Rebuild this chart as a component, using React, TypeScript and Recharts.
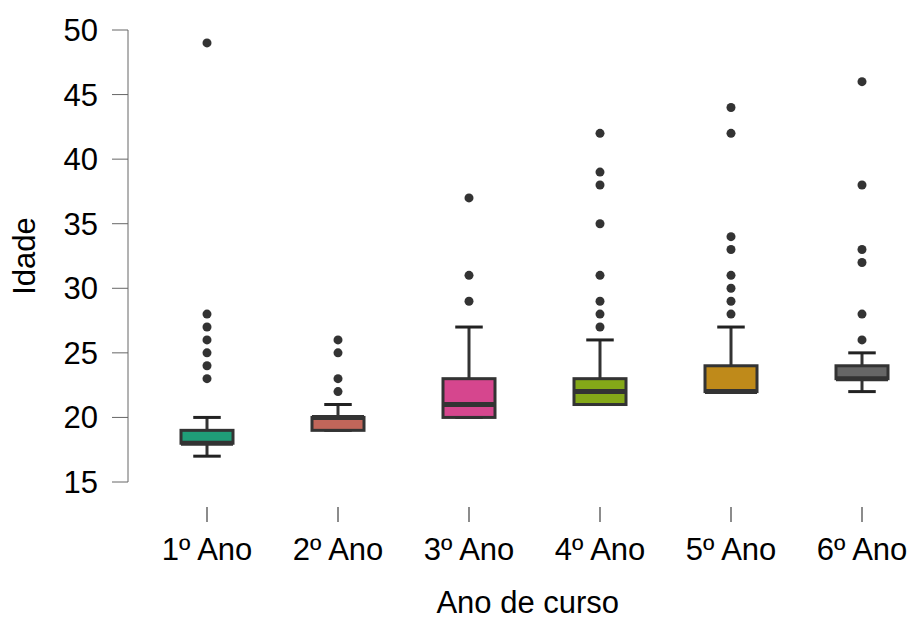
import { ComposedChart, Bar, Scatter, XAxis, YAxis } from 'recharts';

const categories = ['1º Ano', '2º Ano', '3º Ano', '4º Ano', '5º Ano', '6º Ano'];
const whiskerLow = [17, 19, 20, 21, 22, 22];
const q1 = [18, 19, 20, 21, 22, 23];
const median = [18, 20, 21, 22, 22, 23];
const q3 = [19, 20, 23, 23, 24, 24];
const whiskerHigh = [20, 21, 27, 26, 27, 25];
const outliers = [
    [23, 24, 25, 26, 27, 28, 49],
    [22, 23, 25, 26],
    [29, 31, 37],
    [27, 28, 29, 31, 35, 38, 39, 42],
    [28, 29, 30, 31, 33, 34, 42, 44],
    [26, 28, 32, 33, 38, 46],
];
const yTicks = [15, 20, 25, 30, 35, 40, 45, 50];
const colors = ['#1f9e78', '#c0665a', '#d6468e', '#84a818', '#bf8a1a', '#666666'];

const boxRows = categories.map((cat, i) => ({
    cat,
    lo: whiskerLow[i],
    q1: q1[i],
    med: median[i],
    q3: q3[i],
    hi: whiskerHigh[i],
    range: [whiskerLow[i], whiskerHigh[i]],
    color: colors[i],
}));

const outlierPoints = categories.flatMap((cat, i) => outliers[i].map((value) => ({ cat, value })));

const FONT = '"Liberation Sans", Arial, sans-serif';
const FS = 31;

function BoxShape(props: any) {
    const { x, y, width, height, payload } = props;
    const top = Math.min(y, y + height);
    const bottom = Math.max(y, y + height);
    const d = payload;
    // linear scale between the whisker ends, same as the y axis
    const py = (v: number) => top + ((bottom - top) * (d.hi - v)) / (d.hi - d.lo);
    const cx = x + width / 2;
    const capHalf = width / 4;
    return (
        <g>
            <line x1={cx} x2={cx} y1={py(d.hi)} y2={py(d.q3)} stroke="#333" strokeWidth={3} />
            <line x1={cx} x2={cx} y1={py(d.q1)} y2={py(d.lo)} stroke="#333" strokeWidth={3} />
            <line x1={cx - capHalf} x2={cx + capHalf} y1={py(d.hi)} y2={py(d.hi)} stroke="#222" strokeWidth={3} />
            <line x1={cx - capHalf} x2={cx + capHalf} y1={py(d.lo)} y2={py(d.lo)} stroke="#222" strokeWidth={3} />
            <rect
                x={x + 1.5}
                y={py(d.q3)}
                width={width - 3}
                height={py(d.q1) - py(d.q3)}
                fill={d.color}
                stroke="#333"
                strokeWidth={3}
            />
            <line x1={x + 1.5} x2={x + width - 1.5} y1={py(d.med)} y2={py(d.med)} stroke="#333" strokeWidth={5} />
        </g>
    );
}

function XTick(props: any) {
    const { x, y, payload } = props;
    return (
        <g>
            <line x1={x} x2={x} y1={y + 25} y2={y + 40} stroke="#666" strokeWidth={1.5} />
            <text x={x} y={y + 78} textAnchor="middle" fill="#000" fontSize={FS} fontFamily={FONT}>
                {payload.value}
            </text>
        </g>
    );
}

export default function App() {
    return (
        <div style={{ position: 'fixed', left: 0, top: 0, width: 913, height: 619, overflow: 'hidden', background: '#fff' }}>
            <ComposedChart width={940} height={619} data={boxRows} margin={{ top: 30, right: 12.5, bottom: 0, left: 0 }}>
                <XAxis
                    dataKey="cat"
                    type="category"
                    allowDuplicatedCategory={false}
                    axisLine={false}
                    tickLine={false}
                    tickSize={0}
                    tickMargin={0}
                    height={137}
                    padding={{ left: 13.5, right: 0 }}
                    tick={<XTick />}
                    interval={0}
                    label={{
                        value: 'Ano de curso',
                        position: 'insideBottom',
                        offset: 6,
                        fill: '#000',
                        fontSize: FS,
                        fontFamily: FONT,
                    }}
                />
                <YAxis
                    type="number"
                    domain={[15, 50]}
                    ticks={yTicks}
                    width={128}
                    stroke="#666"
                    tickSize={16}
                    tickMargin={14}
                    tick={{ fill: '#000', fontSize: FS, fontFamily: FONT }}
                    label={{
                        value: 'Idade',
                        angle: -90,
                        position: 'insideLeft',
                        offset: 24,
                        fill: '#000',
                        fontSize: FS,
                        fontFamily: FONT,
                        style: { textAnchor: 'middle' },
                    }}
                />
                <Bar dataKey="range" barSize={55} shape={<BoxShape />} isAnimationActive={false} />
                <Scatter
                    data={outlierPoints}
                    dataKey="value"
                    isAnimationActive={false}
                    shape={(p: any) => <circle cx={p.cx} cy={p.cy} r={4.5} fill="#333" />}
                />
            </ComposedChart>
        </div>
    );
}
